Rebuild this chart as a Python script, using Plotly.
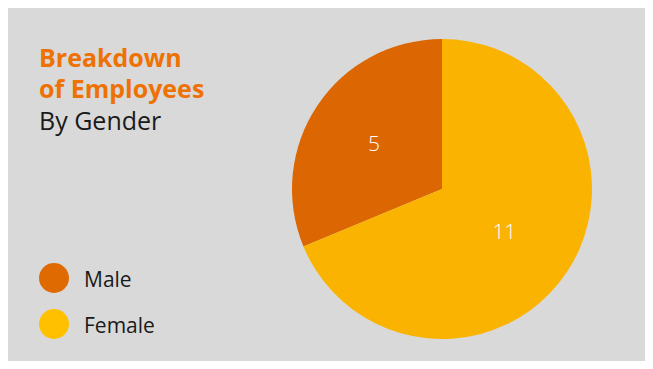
import plotly.graph_objects as go

# Employee headcount by gender
genders = ["Male", "Female"]
counts = [5, 11]
slice_colors = ["#dc6602", "#fab300"]
legend_colors = ["#e06a02", "#ffc000"]

W, H = 653, 369
M = 8
PW, PH = W - 2 * M, H - 2 * M


def px(x):
    return (x - M) / PW


def py(y):
    return 1 - (y - M) / PH


fig = go.Figure()

fig.add_trace(go.Pie(
    labels=genders,
    values=counts,
    sort=False,
    direction="clockwise",
    rotation=-112.5,
    marker=dict(colors=slice_colors, line=dict(width=0)),
    textinfo="value",
    textposition="inside",
    insidetextorientation="horizontal",
    textfont=dict(family="Open Sans", size=21, color="white", weight=300),
    domain=dict(x=[px(292), px(592)], y=[py(339), py(39)]),
    showlegend=False,
    hoverinfo="label+value",
))

shapes = [dict(type="rect", xref="paper", yref="paper", x0=0, x1=1, y0=0, y1=1,
               fillcolor="#d9d9d9", line=dict(width=0), layer="below")]
annotations = []

# Title block
title_lines = [("Breakdown", "#ee7203", 700, 57),
               ("of Employees", "#ee7203", 700, 88),
               ("By Gender", "#1a1a1a", 400, 120)]
for text, color, weight, yc in title_lines:
    annotations.append(dict(
        text=text, xref="paper", yref="paper", x=px(37), y=py(yc),
        xanchor="left", yanchor="middle", showarrow=False,
        font=dict(family="Open Sans", size=25, color=color, weight=weight),
    ))

# Circular legend entries
legend_y = [278, 324]
for name, color, yc in zip(genders, legend_colors, legend_y):
    shapes.append(dict(
        type="circle", xref="paper", yref="paper",
        xsizemode="pixel", ysizemode="pixel",
        xanchor=px(54), yanchor=py(yc),
        x0=-15, x1=15, y0=-15, y1=15,
        fillcolor=color, line=dict(width=0),
    ))
    annotations.append(dict(
        text=name, xref="paper", yref="paper", x=px(82), y=py(yc + 1),
        xanchor="left", yanchor="middle", showarrow=False,
        font=dict(family="Open Sans", size=21, color="#1a1a1a"),
    ))

fig.update_layout(
    width=W, height=H,
    margin=dict(l=M, r=M, t=M, b=M),
    paper_bgcolor="white",
    shapes=shapes,
    annotations=annotations,
)

fig.write_html("out.html")
